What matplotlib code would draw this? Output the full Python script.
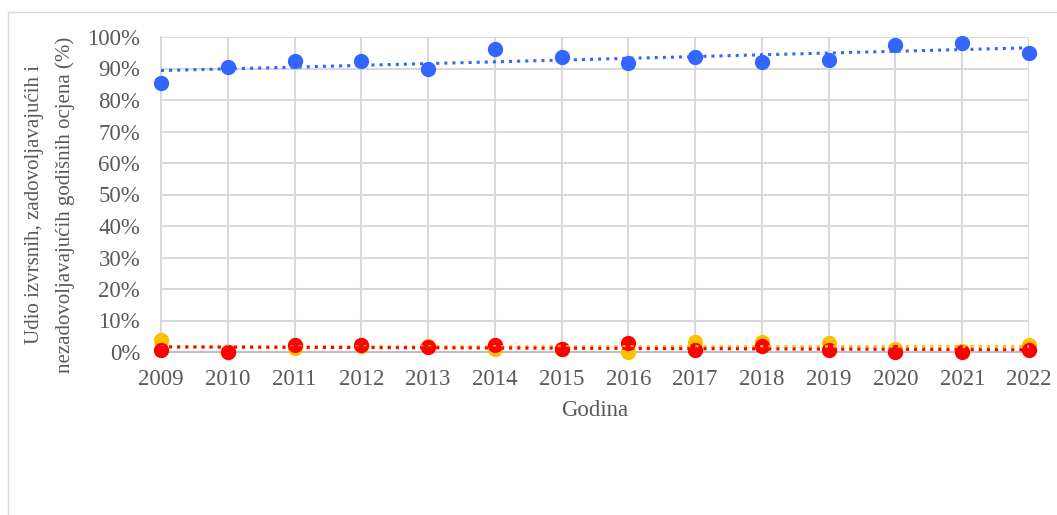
import numpy as np
import matplotlib
matplotlib.use('Agg')
from matplotlib import pyplot as plt
from matplotlib.patches import Rectangle

years = [2009, 2010, 2011, 2012, 2013, 2014, 2015, 2016, 2017, 2018, 2019, 2020, 2021, 2022]
izvrsne = [85.4, 90.6, 92.5, 92.5, 89.8, 96.2, 93.7, 91.8, 93.7, 92.0, 92.8, 97.5, 98.0, 94.9]
zadovoljavajuce = [3.8, 0.0, 1.2, 2.0, 2.0, 0.9, 0.9, 0.0, 3.3, 3.3, 3.0, 1.0, 0.4, 2.2]
nezadovoljavajuce = [0.6, 0.0, 2.2, 2.2, 1.5, 2.2, 0.9, 3.0, 0.6, 1.9, 0.6, 0.0, 0.0, 0.6]

plt.rcParams['font.family'] = ['Liberation Serif', 'DejaVu Serif']
txt = '#595959'
grid = '#d9d9d9'

fig = plt.figure(figsize=(10.57, 5.15), dpi=100)
fig.patches.append(Rectangle((8/1057, -0.01), 1.1, 1 - 12/515 + 0.01, transform=fig.transFigure,
                             fill=False, edgecolor=grid, lw=1))
ax = fig.add_axes([161/1057, 1 - 352/515, (1029 - 161)/1057, (352 - 37)/515])

series = [(izvrsne, '#3366ff'), (zadovoljavajuce, '#ffc000'), (nezadovoljavajuce, '#ff0000')]
x = np.array(years, dtype=float)
for vals, col in series:
    ax.plot(years, vals, 'o', color=col, markersize=10, clip_on=False, zorder=3)
# linearni trend
for vals, col in series:
    k, b = np.polyfit(x, vals, 1)
    ax.plot(x, k * x + b, ':', color=col, lw=2.2, zorder=4, clip_on=False)

ax.set_xlim(2009, 2022)
ax.set_ylim(0, 100)
ax.set_xticks(years)
ax.set_yticks(range(0, 101, 10))
ax.set_yticklabels([str(v) + '%' for v in range(0, 101, 10)])
ax.grid(True, color=grid, lw=1.5)
ax.set_axisbelow(True)
for s in ax.spines.values():
    s.set_visible(False)
ax.spines['bottom'].set_visible(True)
ax.spines['bottom'].set_color('#bfbfbf')
ax.spines['bottom'].set_linewidth(1.5)
ax.spines['left'].set_visible(True)
ax.spines['left'].set_color(grid)
ax.spines['left'].set_linewidth(1.5)
ax.tick_params(length=0, labelsize=16.5, colors=txt)
ax.tick_params(axis='y', pad=15)
ax.tick_params(axis='x', pad=12)

fig.text(595/1057, 1 - 410/515, 'Godina', fontsize=16.5, color=txt, ha='center', va='center')
fig.text(50/1057, 1 - 205/515, 'Udio izvrsnih, zadovoljavajućih i\nnezadovoljavajućih godišnih ocjena (%)',
         fontsize=15, color=txt, ha='center', va='center', rotation=90,
         multialignment='center', linespacing=1.75)

fig.savefig('out.png', dpi=100)
